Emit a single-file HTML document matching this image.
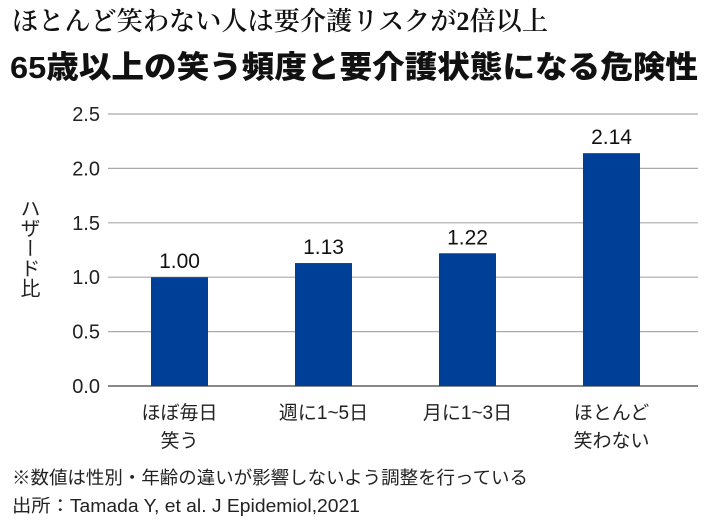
<!DOCTYPE html>
<html><head><meta charset="utf-8"><style>
body{margin:0;background:#fff;width:710px;height:523px;overflow:hidden}
svg{display:block}
.s{font-family:"Liberation Serif","Noto Serif CJK SC",serif}
.g{font-family:"Liberation Sans","Noto Sans CJK JP",sans-serif}
</style></head><body>
<svg width="710" height="523">
<text class="s" x="12" y="30" font-size="26" font-weight="600" fill="#111" textLength="536" lengthAdjust="spacingAndGlyphs">ほとんど笑わない人は要介護リスクが2倍以上</text>
<text class="g" x="10" y="78" font-size="31" font-weight="900" fill="#111" textLength="688" lengthAdjust="spacingAndGlyphs">65歳以上の笑う頻度と要介護状態になる危険性</text>
<g id="grid"></g><g id="bars"></g>
<text class="g" font-size="20" fill="#222" transform="translate(28,198)" style="writing-mode:vertical-rl">ハザード比</text>
<text class="g" x="12" y="484" font-size="18" fill="#222" textLength="516" lengthAdjust="spacingAndGlyphs">※数値は性別・年齢の違いが影響しないよう調整を行っている</text>
<text class="g" x="12" y="512" font-size="18" fill="#222" textLength="348" lengthAdjust="spacingAndGlyphs">出所：Tamada Y, et al. J Epidemiol,2021</text>
</svg>
<script>
const categories=[["ほぼ毎日","笑う"],["週に1~5日"],["月に1~3日"],["ほとんど","笑わない"]];
const values=[1.00,1.13,1.22,2.14];
const valueLabels=["1.00","1.13","1.22","2.14"];
const ticks=[0,0.5,1.0,1.5,2.0,2.5];
const tickLabels=["0.0","0.5","1.0","1.5","2.0","2.5"];
const NS="http://www.w3.org/2000/svg";
const y0=386,y1=114,vmax=2.5,left=108,right=698;
const y=v=>y0-(y0-y1)*v/vmax;
const x=i=>179.5+144*i;
function mk(t,a,p){const e=document.createElementNS(NS,t);for(const k in a)e.setAttribute(k,a[k]);p.appendChild(e);return e;}
const grid=document.getElementById('grid'),bars=document.getElementById('bars');
ticks.forEach((t,i)=>{
const l=mk('line',{x1:left,x2:right,y1:y(t),y2:y(t),stroke:i==0?'#888':'#aaa','stroke-width':i==0?2:1.2},grid);


const tx=mk('text',{x:100,y:y(t)+7,'text-anchor':'end','font-size':20,fill:'#222',class:'g'},grid);
tx.textContent=tickLabels[i];


});
values.forEach((v,i)=>{
const r=mk('rect',{x:x(i)-28.5,y:y(v),width:57,height:y0-y(v),fill:'#003f98'},bars);


const t=mk('text',{x:x(i),y:y(v)-9,'text-anchor':'middle','font-size':21,fill:'#111',class:'g'},bars);
t.textContent=valueLabels[i];


categories[i].forEach((c,j)=>{
const ct=mk('text',{x:x(i),y:419+j*28,'text-anchor':'middle','font-size':19,fill:'#222',class:'g'},bars);
ct.textContent=c;


});
});
</script>
</body></html>
